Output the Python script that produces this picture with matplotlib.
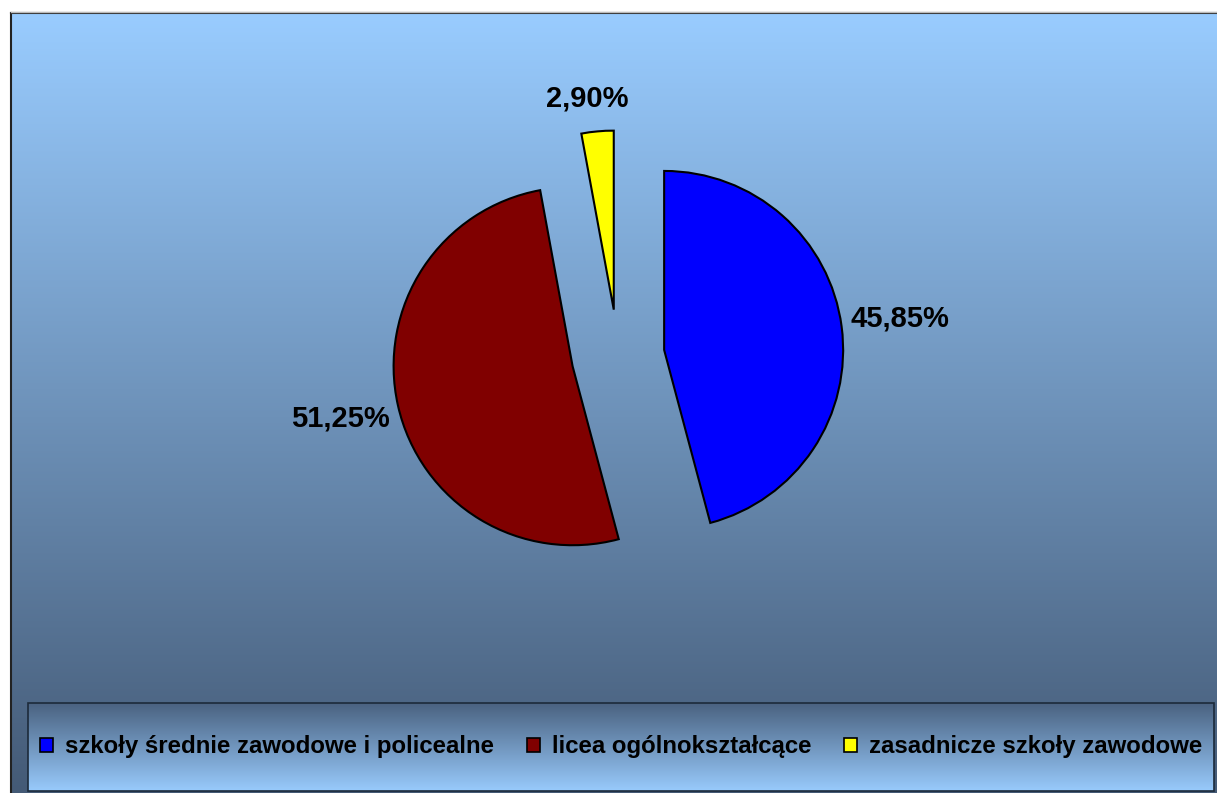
import numpy as np
import matplotlib
matplotlib.use("Agg")
import matplotlib.pyplot as plt
from matplotlib.patches import Rectangle

# data
categories = ["szkoły średnie zawodowe i policealne",
              "licea ogólnokształcące",
              "zasadnicze szkoły zawodowe"]
shares = [45.85, 51.25, 2.90]
colors = ["#0000FF", "#800000", "#FFFF00"]

W, H = 1217, 793
fig = plt.figure(figsize=(W / 100, H / 100), dpi=100, facecolor="white")

# background with gradient (pixel coords, y down)
bg = fig.add_axes([0, 0, 1, 1], zorder=0)
bg.set_xlim(0, W)
bg.set_ylim(H, 0)
bg.axis("off")
top = np.array([153, 204, 255]) / 255
bot = np.array([68, 90, 118]) / 255
t = np.linspace(0, 1, 256)[:, None]
grad = (top * (1 - t) + bot * t)[:, None, :]
bg.imshow(grad, extent=[11, W, H, 13], aspect="auto", interpolation="bilinear")
bg.plot([11, 11], [H, 13], color="#222222", lw=1.5)
bg.plot([11, W], [13, 13], color="#222222", lw=1.5)
bg.plot([11, W], [11.5, 11.5], color="#bbbbbb", lw=1)

# legend box gradient
lg_top = np.array([74, 98, 128]) / 255
lg_bot = np.array([152, 202, 252]) / 255
grad2 = (lg_top * (1 - t) + lg_bot * t)[:, None, :]
bg.imshow(grad2, extent=[28, 1214, 791, 703], aspect="auto", interpolation="bilinear")
bg.add_patch(Rectangle((28, 703), 1186, 88, fill=False, edgecolor="#1c2a3a", lw=1.2))
bg.set_xlim(0, W)
bg.set_ylim(H, 0)

# pie
cx, cy, r, half = 618, H - 356, 179, 300
ax = fig.add_axes([(cx - half) / W, (cy - half) / H, 2 * half / W, 2 * half / H], zorder=2)
wedges, texts, autotexts = ax.pie(
    shares, colors=colors, startangle=90, counterclock=False,
    explode=[0.26, 0.26, 0.26], pctdistance=1.33,
    autopct=lambda p: f"{p:.2f}%".replace(".", ","),
    wedgeprops=dict(edgecolor="black", linewidth=1.5),
    textprops=dict(fontsize=21, fontweight="bold", family="Liberation Sans", color="black"))
# the small slice label sits closer
w = wedges[2]
ang = np.deg2rad((w.theta1 + w.theta2) / 2 + 2)
autotexts[2].set_position((w.center[0] + 1.19 * np.cos(ang), w.center[1] + 1.19 * np.sin(ang)))
ax.set_xlim(-half / r, half / r)
ax.set_ylim(-half / r, half / r)
ax.set_aspect("equal")
ax.axis("off")

leg = fig.legend(wedges, categories, loc="center", ncol=3,
                 bbox_to_anchor=(621 / W, 1 - 747 / H), frameon=False,
                 prop=dict(family="Liberation Sans", weight="bold", size=17.3),
                 handlelength=0.55, handleheight=0.55, handletextpad=0.5,
                 columnspacing=1.35)
for h in leg.legend_handles:
    h.set_linewidth(1.2)

fig.savefig("out.png", dpi=100)
